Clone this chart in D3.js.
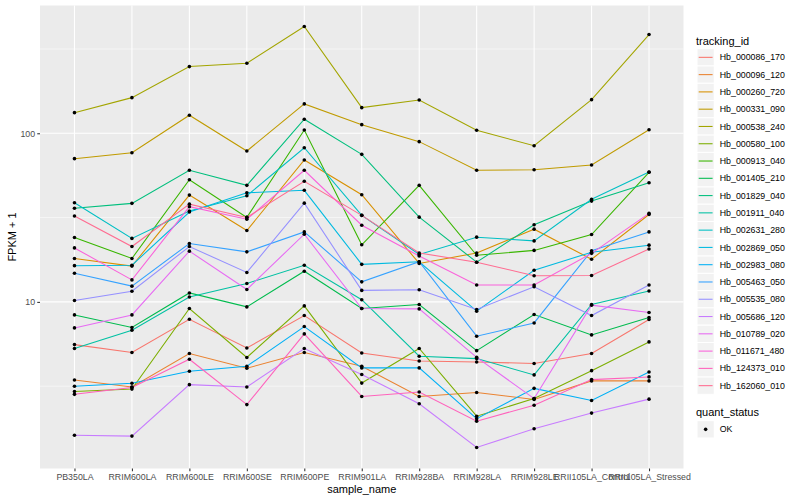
<!DOCTYPE html>
<html>
<head>
<meta charset="utf-8">
<script src="https://cdn.jsdelivr.net/npm/d3@7"></script>
<style>
  body { margin: 0; background: #fff; }
  text { font-family: "Liberation Sans", Arial, Helvetica, sans-serif; }
</style>
</head>
<body>
<div id="container"></div>
<script>
// categories
const samples = ['PB350LA','RRIM600LA','RRIM600LE','RRIM600SE','RRIM600PE','RRIM901LA',
  'RRIM928BA','RRIM928LA','RRIM928LE','RRII105LA_Control','RRII105LA_Stressed'];

const trackingIds = ['Hb_000086_170','Hb_000096_120','Hb_000260_720','Hb_000331_090','Hb_000538_240',
  'Hb_000580_100','Hb_000913_040','Hb_001405_210','Hb_001829_040','Hb_001911_040','Hb_002631_280',
  'Hb_002869_050','Hb_002983_080','Hb_005463_050','Hb_005535_080','Hb_005686_120','Hb_010789_020',
  'Hb_011671_480','Hb_124373_010','Hb_162060_010'];

const hueColors = ['#F8766D','#EA8331','#D89000','#C09B00','#A3A500','#7CAE00','#39B600','#00BB4E',
  '#00BF7D','#00C1A3','#00BFC4','#00BAE0','#00B0F6','#35A2FF','#9590FF','#C77CFF','#E76BF3',
  '#FA62DB','#FF62BC','#FF6C91'];

// FPKM + 1, one value per sample
const hb000086 = [5.58, 5.01, 7.89, 5.33, 8.30, 4.98, 4.46, 4.40, 4.31, 4.94, 7.86];
const hb000096 = [3.44, 3.13, 4.94, 4.04, 5.01, 4.15, 2.75, 2.90, 2.64, 3.40, 3.40];
const hb000260 = [18.1, 16.3, 43.0, 26.5, 69.4, 43.2, 16.9, 19.5, 27.0, 17.9, 33.0];
const hb000331 = [70.7, 76.7, 127.9, 78.5, 149.3, 112.5, 89.2, 60.3, 60.8, 64.8, 105.0];
const hb000538 = [132.5, 162.7, 248.6, 260.4, 429.5, 141.9, 157.6, 104.2, 84.4, 158.3, 385];
const hb000580 = [2.94, 3.04, 9.14, 4.68, 9.47, 3.30, 5.29, 2.10, 2.67, 3.91, 5.79];
const hb000913 = [24.1, 18.1, 53.0, 31.7, 104.6, 21.8, 49.1, 18.9, 20.2, 25.1, 58.7];
const hb001405 = [8.37, 7.05, 11.3, 9.34, 15.2, 9.14, 9.65, 5.14, 8.41, 6.37, 8.08];
const hb001829 = [35.9, 38.4, 60.3, 49.1, 121.1, 75.0, 31.8, 17.2, 28.7, 39.6, 50.9];
const hb001911 = [5.29, 6.79, 10.7, 12.86, 16.5, 10.3, 4.76, 4.61, 3.69, 9.65, 11.6];
const hb002631 = [38.7, 23.8, 34.6, 42.6, 82.1, 32.6, 19.1, 24.2, 23.0, 40.6, 58.9];
const hb002869 = [16.4, 16.5, 34.1, 44.4, 45.9, 16.7, 17.3, 8.81, 15.4, 19.7, 21.7];
const hb002983 = [3.16, 3.29, 3.88, 4.15, 7.14, 4.06, 4.06, 2.03, 3.07, 2.60, 3.84];
const hb005463 = [14.8, 12.4, 22.2, 19.8, 26.0, 13.15, 17.3, 6.26, 7.50, 20.1, 26.0];
const hb005535 = [10.2, 11.57, 21.3, 14.95, 38.5, 11.7, 11.8, 9.01, 12.3, 8.30, 12.6];
const hb005686 = [1.62, 1.60, 3.23, 3.13, 5.29, 3.71, 2.49, 1.37, 1.77, 2.19, 2.65];
const hb010789 = [7.01, 8.37, 20.0, 11.85, 25.2, 9.14, 9.09, 4.69, 2.67, 9.56, 8.65];
const hb011671 = [20.9, 13.5, 36.7, 30.9, 60.3, 28.5, 18.7, 12.6, 12.6, 19.4, 33.5];
const hb124373 = [2.83, 3.11, 4.57, 2.46, 6.46, 2.75, 2.92, 1.96, 2.44, 3.46, 3.59];
const hb162060 = [32.3, 21.3, 38.0, 31.7, 51.9, 32.6, 19.5, 17.2, 14.3, 14.35, 20.6];

const seriesValues = [hb000086, hb000096, hb000260, hb000331, hb000538, hb000580, hb000913,
  hb001405, hb001829, hb001911, hb002631, hb002869, hb002983, hb005463, hb005535, hb005686,
  hb010789, hb011671, hb124373, hb162060];

const majorTicks = [10, 100];
const minorTicks = [Math.pow(10, 0.5), Math.pow(10, 1.5), Math.pow(10, 2.5)];

const width = 800, height = 500;
const panel = {left: 40, right: 683.5, top: 5.5, bottom: 468.5};

const series = trackingIds.map((id, i) => ({
  id: id,
  color: hueColors[i],
  values: seriesValues[i].map((v, j) => ({sample: samples[j], v: v}))
}));

const svg = d3.select('#container').append('svg')
  .attr('width', width)
  .attr('height', height);

// scales
const x = d3.scalePoint()
  .domain(samples)
  .range([panel.left, panel.right])
  .padding(0.6);

const allVals = seriesValues.flat();
const lmin = Math.log10(d3.min(allVals)), lmax = Math.log10(d3.max(allVals));
const ex = (lmax - lmin) * 0.05;
const y = d3.scaleLog()
  .domain([Math.pow(10, lmin - ex), Math.pow(10, lmax + ex)])
  .range([panel.bottom, panel.top]);

// panel background
svg.append('rect')
  .attr('x', panel.left).attr('y', panel.top)
  .attr('width', panel.right - panel.left)
  .attr('height', panel.bottom - panel.top)
  .attr('fill', '#EBEBEB');

// grid
svg.selectAll('.minor')
  .data(minorTicks.filter(t => t > y.domain()[0] && t < y.domain()[1]))
  .enter().append('line')
  .attr('x1', panel.left).attr('x2', panel.right)
  .attr('y1', d => y(d)).attr('y2', d => y(d))
  .attr('stroke', '#fff').attr('stroke-width', 0.53);

svg.selectAll('.majory')
  .data(majorTicks)
  .enter().append('line')
  .attr('x1', panel.left).attr('x2', panel.right)
  .attr('y1', d => y(d)).attr('y2', d => y(d))
  .attr('stroke', '#fff').attr('stroke-width', 1.07);

svg.selectAll('.majorx')
  .data(samples)
  .enter().append('line')
  .attr('x1', d => x(d)).attr('x2', d => x(d))
  .attr('y1', panel.top).attr('y2', panel.bottom)
  .attr('stroke', '#fff').attr('stroke-width', 1.07);

// lines
const line = d3.line()
  .x(d => x(d.sample))
  .y(d => y(d.v));

svg.selectAll('.series')
  .data(series)
  .enter().append('path')
  .attr('d', d => line(d.values))
  .attr('fill', 'none')
  .attr('stroke', d => d.color)
  .attr('stroke-width', 1.07);

// points
series.forEach(s => {
  svg.selectAll(null)
    .data(s.values)
    .enter().append('circle')
    .attr('cx', d => x(d.sample))
    .attr('cy', d => y(d.v))
    .attr('r', 1.8)
    .attr('fill', '#000');
});

// axes
const yAxis = svg.append('g')
  .attr('transform', `translate(${panel.left},0)`)
  .call(d3.axisLeft(y).tickValues(majorTicks).tickFormat(d3.format('d')).tickSize(2.75).tickPadding(2.2));

const xAxis = svg.append('g')
  .attr('transform', `translate(0,${panel.bottom})`)
  .call(d3.axisBottom(x).tickSize(2.75).tickPadding(2.2));

[yAxis, xAxis].forEach(a => {
  a.select('.domain').remove();
  a.selectAll('.tick line').attr('stroke', '#333333').attr('stroke-width', 1.07);
  a.selectAll('.tick text')
    .attr('fill', '#4D4D4D')
    .style('font-size', '8.8px')
    .style('font-family', '"Liberation Sans", Arial, sans-serif');
});

// axis titles
svg.append('text')
  .attr('x', (panel.left + panel.right) / 2)
  .attr('y', 493)
  .attr('text-anchor', 'middle')
  .style('font-size', '11px')
  .text('sample_name');

svg.append('text')
  .attr('transform', `translate(16,${(panel.top + panel.bottom) / 2}) rotate(-90)`)
  .attr('text-anchor', 'middle')
  .style('font-size', '11px')
  .text('FPKM + 1');

// legend: tracking_id
const legX = 697, keySize = 17.28, legTop = 48.7;
svg.append('text')
  .attr('x', 696).attr('y', 44.5)
  .style('font-size', '11px')
  .text('tracking_id');

const keys = svg.selectAll('.key')
  .data(series)
  .enter().append('g')
  .attr('transform', (d, i) => `translate(${legX},${legTop + i * keySize})`);

keys.append('rect')
  .attr('width', keySize).attr('height', keySize)
  .attr('fill', '#F2F2F2').attr('stroke', '#fff').attr('stroke-width', 1);

keys.append('line')
  .attr('x1', 1.7).attr('x2', keySize - 1.7)
  .attr('y1', keySize / 2).attr('y2', keySize / 2)
  .attr('stroke', d => d.color).attr('stroke-width', 1.07);

keys.append('text')
  .attr('x', keySize + 5.5).attr('y', keySize / 2 + 3.1)
  .style('font-size', '8.8px')
  .text(d => d.id);

// legend: quant_status
svg.append('text')
  .attr('x', 696).attr('y', 416)
  .style('font-size', '11px')
  .text('quant_status');

const qk = svg.append('g').attr('transform', `translate(${legX},420.7)`);
qk.append('rect')
  .attr('width', keySize).attr('height', keySize)
  .attr('fill', '#F2F2F2').attr('stroke', '#fff').attr('stroke-width', 1);
qk.append('circle')
  .attr('cx', keySize / 2).attr('cy', keySize / 2).attr('r', 1.8).attr('fill', '#000');
qk.append('text')
  .attr('x', keySize + 5.5).attr('y', keySize / 2 + 3.1)
  .style('font-size', '8.8px')
  .text('OK');
</script>
</body>
</html>
